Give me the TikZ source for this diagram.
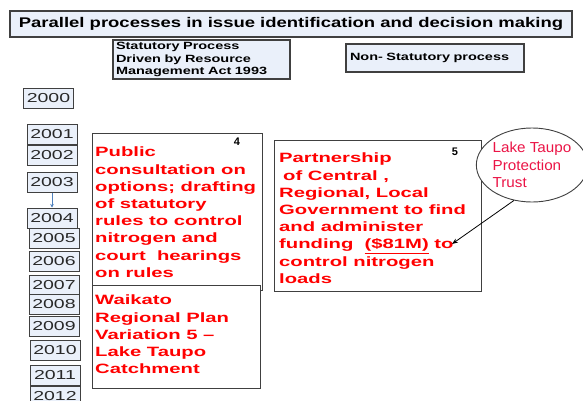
\documentclass[tikz,border=0pt]{standalone}
\usepackage{fontspec}
\setmainfont{Liberation Sans}
\newfontfamily\titlefont[FakeStretch=1.32]{Liberation Sans}
\newfontfamily\headfont[FakeStretch=1.38]{Liberation Sans}
\newfontfamily\yearfont[FakeStretch=1.5]{Liberation Sans}
\newfontfamily\notefont[FakeStretch=1.5]{Liberation Sans}
\newfontfamily\trustfont[FakeStretch=1.05]{Liberation Sans}
\usetikzlibrary{shapes.geometric,arrows.meta}

\definecolor{boxfill}{RGB}{234,240,250}
\definecolor{edgegray}{RGB}{64,64,64}
\definecolor{notered}{RGB}{255,0,0}
\definecolor{trustred}{RGB}{235,20,70}
\definecolor{linkblue}{RGB}{79,129,189}
\definecolor{yeartext}{RGB}{40,40,40}

\tikzset{
  headbox/.style={draw=edgegray, line width=1.1pt, fill=boxfill, inner sep=0pt},
  yearbox/.style={draw=edgegray, line width=1pt, fill=boxfill, inner sep=0pt,
    minimum width=50pt, minimum height=20pt, text=yeartext,
    font=\yearfont\fontsize{13}{15}\selectfont},
  notebox/.style={draw=edgegray, line width=0.9pt, fill=white, inner sep=0pt, anchor=north west},
  notetext/.style={anchor=north west, inner sep=0pt, align=left, text=notered,
    font=\notefont\bfseries\fontsize{13.5}{17.2}\selectfont},
  tag/.style={inner sep=0pt, font=\bfseries\fontsize{11}{13}\selectfont},
  link/.style={line width=0.8pt, -{Stealth[length=6pt,width=4.5pt]}}
}

\begin{document}
\begin{tikzpicture}[x=1pt,y=-1pt]
\useasboundingbox (0,0) rectangle (583,401);

% headings
\node[headbox, minimum width=562pt, minimum height=26pt,
      font=\titlefont\bfseries\fontsize{14}{16}\selectfont] (title) at (291,24)
  {Parallel processes in issue identification and decision making};
\node[headbox, minimum height=39pt, text width=171pt, inner xsep=3pt, align=left,
      font=\headfont\bfseries\fontsize{10.5}{12.5}\selectfont] (statutory) at (201.5,59.5)
  {Statutory Process\\Driven by Resource\\Management Act 1993};
\node[headbox, minimum height=28pt, text width=170pt, inner xsep=4pt, align=left,
      font=\headfont\bfseries\fontsize{10.5}{12.5}\selectfont] (nonstatutory) at (435,58)
  {Non- Statutory process};

% timeline of years
\foreach \yr/\cx/\cy in {2000/48.5/98.5, 2001/52/134.5, 2002/52/155.5, 2003/52/182.5,
    2004/52/218, 2005/54/238.5, 2006/54/261.5, 2007/54/285.5, 2008/54/304.5,
    2009/54/326.5, 2010/55/350.5, 2011/55/375, 2012/55/396}
  \node[yearbox] (y\yr) at (\cx,\cy) {\yr};
\draw[linkblue, line width=0.8pt, -{Stealth[length=3.5pt,width=3.5pt]}] (y2003) -- (y2004);

% statutory process boxes
\node[notebox, minimum width=170pt, minimum height=157pt] (consult) at (92,133) {};
\node[notebox, minimum width=168pt, minimum height=103pt] (variation) at (92,285) {};
\node[notetext] (consulttext) at (95,147)
  {Public\\consultation on\\options; drafting\\of statutory\\rules to control\\nitrogen and\\court\ \ hearings\\on rules};
\node[tag] (tagfour) at (237,142) {4};
\node[notetext] (variationtext) at (95,295)
  {Waikato\\Regional Plan\\Variation 5 \textendash\\Lake Taupo\\Catchment};

% non-statutory process box
\node[notebox, minimum width=207pt, minimum height=151pt] (partner) at (274,140) {};
\node[notetext] (partnertext) at (279,153)
  {Partnership\\\hspace*{4pt}of Central ,\\Regional, Local\\Government to find\\and administer\\funding\ \ \underline{(\$81M)} to\\control nitrogen\\loads};
\node[tag] (tagfive) at (455,152) {5};

% trust and its link to the funding
\node[ellipse, draw=edgegray, line width=0.9pt, fill=white, inner sep=0pt,
      minimum width=101pt, minimum height=74pt, align=left, text=trustred,
      font=\trustfont\fontsize{14.5}{17.5}\selectfont] (trust) at (532,165)
  {Lake Taupo\\Protection\\Trust};
\coordinate (fundpt) at (452,244);
\draw[link] (trust.243) -- (fundpt);
\end{tikzpicture}
\end{document}
